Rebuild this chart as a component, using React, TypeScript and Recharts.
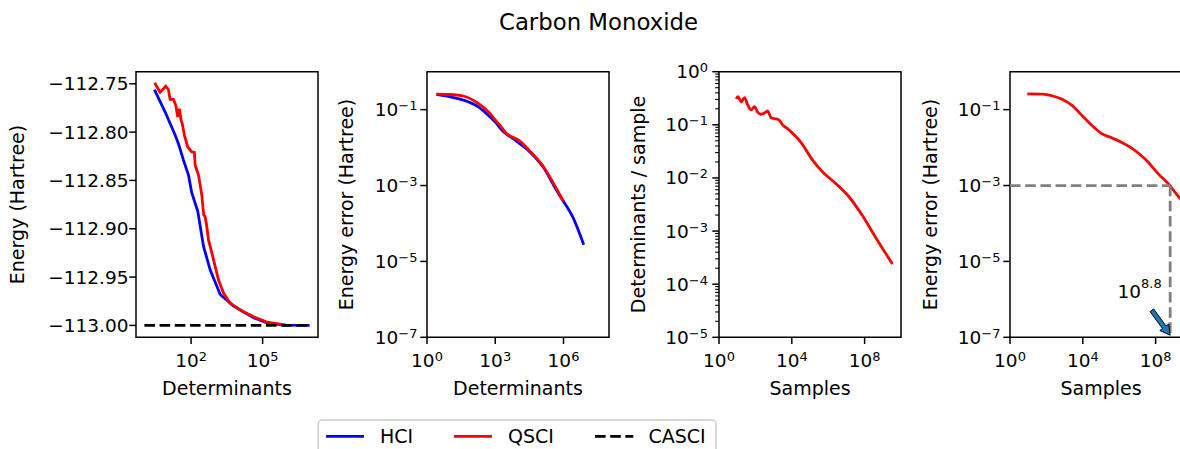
import React from 'react';
import { LineChart, Line, XAxis, YAxis, ReferenceArea, ReferenceDot } from 'recharts';

// ---------------- data ----------------
// Panel 1: energy vs determinants
const p1HciDets = [2.9, 8.1, 21.4, 29.5, 47.9, 77.6, 107, 191, 331, 631, 1660, 6026, 41690, 151400, 758600, 9330000];
const p1HciEnergy = [-112.756, -112.779, -112.803, -112.812, -112.829, -112.8445, -112.863, -112.882, -112.918, -112.9425, -112.968, -112.98, -112.992, -112.9975, -112.9997, -113.0];
const p1QsciDets = [2.95, 5.0, 6.9, 8.7, 11.2, 13.2, 18.2, 22.9, 27.5, 32.4, 38, 42.7, 52.5, 72.4, 107, 138, 148, 204, 282, 339, 389, 457, 537, 741, 1023, 1413, 2291, 4365, 11480, 41690, 151400, 1000000];
const p1QsciEnergy = [-112.749, -112.7587, -112.7552, -112.7525, -112.7559, -112.7662, -112.7662, -112.7724, -112.7844, -112.7758, -112.7878, -112.7912, -112.8033, -112.8154, -112.8205, -112.8211, -112.8342, -112.8445, -112.8652, -112.8858, -112.8875, -112.898, -112.9115, -112.925, -112.939, -112.953, -112.9665, -112.977, -112.984, -112.991, -112.9965, -112.9996];
const p1CasciDets = [1.1, 9330000];
const p1CasciEnergy = [-113.0, -113.0];
const p1EnergyTicks = [-113.0, -112.95, -112.9, -112.85, -112.8, -112.75];
const p1EnergyTickLabels = ['\u2212113.00', '\u2212112.95', '\u2212112.90', '\u2212112.85', '\u2212112.80', '\u2212112.75'];
const p1DetTicks = [100, 100000];

// Panel 2: energy error vs determinants
const p2HciDets = [2.6, 10, 38, 174, 562, 1000, 2138, 8318, 31620, 123000, 478600, 1000000, 2510000, 7760000];
const p2HciError = [0.251, 0.219, 0.18, 0.12, 0.066, 0.0468, 0.0275, 0.0151, 0.00794, 0.00316, 0.000776, 0.00038, 0.000151, 0.0000275];
const p2QsciDets = [2.6, 10, 38, 174, 562, 1000, 1549, 3020, 11750, 31620, 123000, 478600, 1000000];
const p2QsciError = [0.257, 0.251, 0.229, 0.148, 0.0813, 0.0537, 0.0398, 0.024, 0.0151, 0.00832, 0.00331, 0.000851, 0.00038];
const p2DetTicks = [1, 1000, 1000000];
const p2ErrorTicks = [1e-7, 1e-5, 1e-3, 1e-1];

// Panel 3: determinants per sample vs samples
const p3Samples = [8.9, 11, 16.6, 25.1, 38, 58.9, 89.1, 135, 204, 309, 468, 724, 1349, 2042, 3090, 5754, 8913, 16600, 31620, 134900, 467700, 2510000, 13500000, 72400000, 389000000, 3390000000];
const p3DetsPerSample = [0.306, 0.339, 0.272, 0.324, 0.236, 0.191, 0.219, 0.172, 0.158, 0.166, 0.182, 0.136, 0.129, 0.123, 0.1, 0.0851, 0.0741, 0.0603, 0.0468, 0.0219, 0.0132, 0.00794, 0.00447, 0.002, 0.000776, 0.00024];
const p3SampleTicks = [1, 10000, 100000000];
const p3RatioTicks = [
  1e-5, 2e-5, 3e-5, 4e-5, 5e-5, 6e-5, 7e-5, 8e-5, 9e-5,
  1e-4, 2e-4, 3e-4, 4e-4, 5e-4, 6e-4, 7e-4, 8e-4, 9e-4,
  1e-3, 2e-3, 3e-3, 4e-3, 5e-3, 6e-3, 7e-3, 8e-3, 9e-3,
  1e-2, 2e-2, 3e-2, 4e-2, 5e-2, 6e-2, 7e-2, 8e-2, 9e-2,
  1e-1, 2e-1, 3e-1, 4e-1, 5e-1, 6e-1, 7e-1, 8e-1, 9e-1, 1,
];

// Panel 4: energy error vs samples
const p4Samples = [8.9, 63, 224, 776, 2754, 9550, 33900, 117500, 416900, 1450000, 5130000, 27500000, 145000000, 631000000, 1780000000, 3390000000];
const p4Error = [0.259, 0.257, 0.229, 0.186, 0.126, 0.0676, 0.0372, 0.0229, 0.0178, 0.0135, 0.00955, 0.0049, 0.002, 0.00098, 0.000513, 0.00038];
const p4Threshold = [0.001];
const p4ThresholdSamples = [631000000];
const p4AnnotationExp = '8.8';

// ---------------- style ----------------
const FONT = '"DejaVu Sans", sans-serif';
const BLUE = '#0000ff';
const RED = '#ff0000';
const LW = 2.8;
const TICK_FS = 18.5;
const SUP_FS = 13;
const LABEL_FS = 19;
const SPINE_W = 1.5;

const PLOT_TOP = 71.7;
const PLOT_BOTTOM = 337.3;
const PLOT_W = 182;
const AXIS_W = 130;
const X_AXIS_H = 60;
const CHART_H = 449;
const RIGHT_M = 12;
const CHART_W = AXIS_W + PLOT_W + RIGHT_M;

const zip = (xs: number[], ys: number[]) => xs.map((x, i) => ({ x, y: ys[i] }));
const supText = (n: number) => (n < 0 ? '\u2212' + Math.abs(n) : String(n));

const LogXTick = (props: any) => {
  const { x, y, payload } = props;
  const e = Math.round(Math.log10(payload.value));
  return (
    <g>
      <line x1={x} x2={x} y1={y} y2={y + 6.7} stroke="#000" strokeWidth={SPINE_W} />
      <text x={x} y={y + 30} textAnchor="middle" fontFamily={FONT} fontSize={TICK_FS} fill="#000">
        10<tspan dy={-6} fontSize={SUP_FS}>{supText(e)}</tspan>
      </text>
    </g>
  );
};

const makeLogYTick = (gap: number) => (props: any) => {
  const { x, y, payload } = props;
  const lg = Math.log10(payload.value);
  const e = Math.round(lg);
  const major = Math.abs(lg - e) < 1e-6;
  if (!major) {
    return <line x1={x - 3.8} x2={x} y1={y} y2={y} stroke="#000" strokeWidth={1.1} />;
  }
  return (
    <g>
      <line x1={x - 6.7} x2={x} y1={y} y2={y} stroke="#000" strokeWidth={SPINE_W} />
      <text x={x - gap} y={y + 6.5} textAnchor="end" fontFamily={FONT} fontSize={TICK_FS} fill="#000">
        10<tspan dy={-6} fontSize={SUP_FS}>{supText(e)}</tspan>
      </text>
    </g>
  );
};

const LinYTick = (props: any) => {
  const { x, y, payload } = props;
  const idx = p1EnergyTicks.findIndex((t) => Math.abs(t - payload.value) < 1e-9);
  const label = idx >= 0 ? p1EnergyTickLabels[idx] : String(payload.value);
  return (
    <g>
      <line x1={x - 6.7} x2={x} y1={y} y2={y} stroke="#000" strokeWidth={SPINE_W} />
      <text x={x - 7.5} y={y + 6.5} textAnchor="end" fontFamily={FONT} fontSize={TICK_FS} fill="#000">
        {label}
      </text>
    </g>
  );
};

const xLabelContent = (text: string) => (props: any) => {
  const vb = props.viewBox || { x: AXIS_W, y: PLOT_BOTTOM, width: PLOT_W, height: X_AXIS_H };
  const cx = vb.x + vb.width / 2;
  return (
    <text x={cx} y={vb.y + 57.7} textAnchor="middle" fontFamily={FONT} fontSize={LABEL_FS} fill="#000">
      {text}
    </text>
  );
};

const yLabelContent = (text: string, dist: number) => (props: any) => {
  const vb = props.viewBox || { x: 0, y: PLOT_TOP, width: AXIS_W, height: PLOT_BOTTOM - PLOT_TOP };
  const bx = vb.x + vb.width - dist;
  const cy = vb.y + vb.height / 2;
  return (
    <text x={bx} y={cy} transform={`rotate(-90 ${bx} ${cy})`} textAnchor="middle" fontFamily={FONT} fontSize={LABEL_FS} fill="#000">
      {text}
    </text>
  );
};

const ArrowAnnotation = (props: any) => {
  const { cx, cy } = props;
  if (cx == null || cy == null) return null;
  const tx = cx;
  const ty = cy - 2;
  const d = [0.59, 0.806];
  const p = [-0.806, 0.59];
  const L = 31;
  const headL = 10;
  const hw = 5.5;
  const sw = 2.2;
  const tail = [tx - L * d[0], ty - L * d[1]];
  const base = [tx - headL * d[0], ty - headL * d[1]];
  const pts = [
    [tail[0] + p[0] * sw, tail[1] + p[1] * sw],
    [base[0] + p[0] * sw, base[1] + p[1] * sw],
    [base[0] + p[0] * hw, base[1] + p[1] * hw],
    [tx, ty],
    [base[0] - p[0] * hw, base[1] - p[1] * hw],
    [base[0] - p[0] * sw, base[1] - p[1] * sw],
    [tail[0] - p[0] * sw, tail[1] - p[1] * sw],
  ];
  return (
    <g>
      <polygon points={pts.map((q) => q.join(',')).join(' ')} fill="#1f77b4" stroke="#000" strokeWidth={1} />
      <text x={cx - 52.7} y={cy - 39.6} fontFamily={FONT} fontSize={TICK_FS} fill="#000">
        10<tspan dy={-10} fontSize={SUP_FS}>{p4AnnotationExp}</tspan>
      </text>
    </g>
  );
};

type PanelProps = {
  left: number;
  xDomain: [number, number];
  yDomain: [number, number];
  xTicks: number[];
  yTicks: number[];
  yLog: boolean;
  yTick: any;
  xLabel: string;
  yLabel: string;
  yLabelDist: number;
  children?: React.ReactNode;
};

function Panel(props: PanelProps) {
  const { left, xDomain, yDomain, xTicks, yTicks, yLog, yTick, xLabel, yLabel, yLabelDist, children } = props;
  return (
    <div style={{ position: 'absolute', left: left - AXIS_W, top: 0 }}>
      <LineChart
        width={CHART_W}
        height={CHART_H}
        margin={{ top: PLOT_TOP, right: RIGHT_M, bottom: CHART_H - PLOT_BOTTOM - X_AXIS_H, left: 0 }}
      >
        <XAxis
          dataKey="x"
          type="number"
          scale="log"
          domain={xDomain}
          allowDataOverflow
          ticks={xTicks}
          interval={0}
          tickSize={0}
          tickMargin={0}
          tick={LogXTick}
          tickLine={false}
          axisLine={false}
          height={X_AXIS_H}
          label={xLabelContent(xLabel)}
        />
        <YAxis
          dataKey="y"
          type="number"
          scale={yLog ? 'log' : 'linear'}
          domain={yDomain}
          allowDataOverflow
          ticks={yTicks}
          interval={0}
          tickSize={0}
          tickMargin={0}
          tick={yTick}
          tickLine={false}
          axisLine={false}
          width={AXIS_W}
          label={yLabelContent(yLabel, yLabelDist)}
        />
        <ReferenceArea
          x1={xDomain[0]}
          x2={xDomain[1]}
          y1={yDomain[0]}
          y2={yDomain[1]}
          fill="none"
          fillOpacity={0}
          stroke="#000"
          strokeWidth={SPINE_W}
          ifOverflow="visible"
        />
        {children}
      </LineChart>
    </div>
  );
}

const lineCommon = { dataKey: 'y', dot: false, activeDot: false, isAnimationActive: false };

export default function App() {
  return (
    <div style={{ position: 'fixed', left: 0, top: 0, width: 1180, height: 449, overflow: 'hidden', background: '#fff' }}>
      <Panel
        left={136}
        xDomain={[0.49, 21000000]}
        yDomain={[-113.0123, -112.7375]}
        xTicks={p1DetTicks}
        yTicks={p1EnergyTicks}
        yLog={false}
        yTick={LinYTick}
        xLabel="Determinants"
        yLabel="Energy (Hartree)"
        yLabelDist={112}
      >
        <Line {...lineCommon} type="linear" data={zip(p1HciDets, p1HciEnergy)} stroke={BLUE} strokeWidth={LW} name="HCI" />
        <Line {...lineCommon} type="linear" data={zip(p1QsciDets, p1QsciEnergy)} stroke={RED} strokeWidth={LW} name="QSCI" />
        <Line {...lineCommon} type="linear" data={zip(p1CasciDets, p1CasciEnergy)} stroke="#000" strokeWidth={LW} strokeDasharray="10.6 4.6" name="CASCI" />
      </Panel>

      <Panel
        left={427.3}
        xDomain={[1, 100000000]}
        yDomain={[1e-7, 1]}
        xTicks={p2DetTicks}
        yTicks={p2ErrorTicks}
        yLog
        yTick={makeLogYTick(9.5)}
        xLabel="Determinants"
        yLabel="Energy error (Hartree)"
        yLabelDist={74}
      >
        <Line {...lineCommon} type="monotone" data={zip(p2HciDets, p2HciError)} stroke={BLUE} strokeWidth={LW} name="HCI" />
        <Line {...lineCommon} type="monotone" data={zip(p2QsciDets, p2QsciError)} stroke={RED} strokeWidth={LW} name="QSCI" />
      </Panel>

      <Panel
        left={719.3}
        xDomain={[1, 10000000000]}
        yDomain={[1e-5, 1]}
        xTicks={p3SampleTicks}
        yTicks={p3RatioTicks}
        yLog
        yTick={makeLogYTick(11)}
        xLabel="Samples"
        yLabel="Determinants / sample"
        yLabelDist={74.5}
      >
        <Line {...lineCommon} type="monotone" data={zip(p3Samples, p3DetsPerSample)} stroke={RED} strokeWidth={LW} name="QSCI" />
      </Panel>

      <Panel
        left={1010.3}
        xDomain={[1, 10000000000]}
        yDomain={[1e-7, 1]}
        xTicks={p3SampleTicks}
        yTicks={p2ErrorTicks}
        yLog
        yTick={makeLogYTick(9.5)}
        xLabel="Samples"
        yLabel="Energy error (Hartree)"
        yLabelDist={73}
      >
        <Line {...lineCommon} type="monotone" data={zip(p4Samples, p4Error)} stroke={RED} strokeWidth={LW} name="QSCI" />
        <Line
          {...lineCommon}
          type="linear"
          data={zip([1, p4ThresholdSamples[0]], [p4Threshold[0], p4Threshold[0]])}
          stroke="#808080"
          strokeWidth={LW}
          strokeDasharray="10.6 4.6"
        />
        <Line
          {...lineCommon}
          type="linear"
          data={zip([p4ThresholdSamples[0], p4ThresholdSamples[0]], [p4Threshold[0], 1e-7])}
          stroke="#808080"
          strokeWidth={LW}
          strokeDasharray="10.6 4.6"
        />
        <ReferenceDot x={p4ThresholdSamples[0]} y={1e-7} r={0} ifOverflow="visible" shape={ArrowAnnotation} />
      </Panel>

      <svg width={1180} height={449} style={{ position: 'absolute', left: 0, top: 0, pointerEvents: 'none' }}>
        <text x={598.5} y={30} textAnchor="middle" fontFamily={FONT} fontSize={22.8} fill="#000">
          Carbon Monoxide
        </text>
        <rect x={318.3} y={420} width={397.7} height={45} rx={4} ry={4} fill="#fff" fillOpacity={0.8} stroke="#cccccc" strokeWidth={1.5} />
        <line x1={326} x2={364} y1={436.3} y2={436.3} stroke={BLUE} strokeWidth={LW} />
        <text x={380} y={443.3} fontFamily={FONT} fontSize={LABEL_FS} fill="#000">HCI</text>
        <line x1={454} x2={492} y1={436.3} y2={436.3} stroke={RED} strokeWidth={LW} />
        <text x={508} y={443.3} fontFamily={FONT} fontSize={LABEL_FS} fill="#000">QSCI</text>
        <line x1={595} x2={633.3} y1={436.3} y2={436.3} stroke="#000" strokeWidth={LW} strokeDasharray="10.6 4.6" />
        <text x={648.5} y={443.3} fontFamily={FONT} fontSize={LABEL_FS} fill="#000">CASCI</text>
      </svg>
    </div>
  );
}
